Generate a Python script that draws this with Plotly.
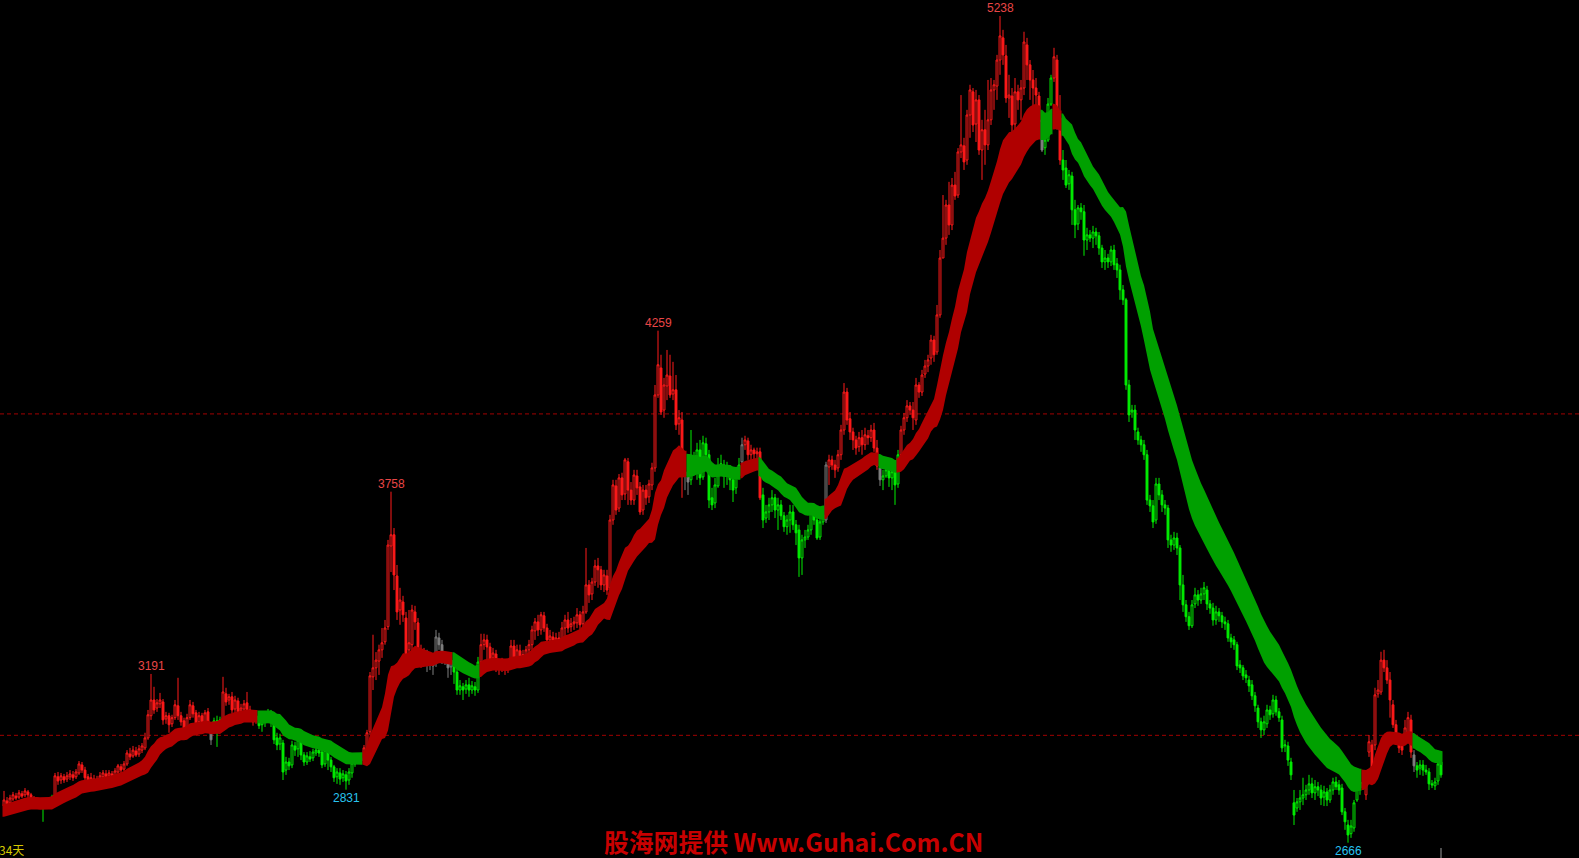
import math
import plotly.graph_objects as go

# ---------------- data (index price, one bar per session) ----------------
OPEN = [
    2780, 2796, 2790, 2802, 2811, 2808, 2818, 2815, 2824, 2815,
    2805, 2799, 2790, 2780, 2796, 2787, 2796, 2790, 2871, 2861,
    2871, 2864, 2871, 2877, 2871, 2883, 2908, 2892, 2871, 2858,
    2864, 2855, 2861, 2871, 2880, 2874, 2880, 2874, 2886, 2902,
    2895, 2911, 2942, 2936, 2951, 2942, 2954, 2961, 2992, 3061,
    3110, 3085, 3098, 3104, 3051, 3061, 3036, 3055, 3092, 3061,
    3045, 3023, 3055, 3092, 3070, 3042, 3061, 3030, 3073, 3023,
    3030, 3045, 3036, 3042, 3129, 3110, 3120, 3082, 3107, 3076,
    3082, 3101, 3079, 3067, 3048, 3061, 3033, 3042, 3058, 3070,
    3042, 2992, 2973, 2976, 2892, 2917, 2908, 2967, 2958, 2983,
    2939, 2917, 2933, 2930, 2945, 2954, 2948, 2911, 2951, 2923,
    2902, 2871, 2883, 2868, 2877, 2861, 2883, 2911, 2926, 2920,
    2930, 2961, 3011, 3182, 3210, 3231, 3266, 3291, 3338, 3589,
    3624, 3496, 3390, 3415, 3365, 3266, 3282, 3384, 3350, 3251,
    3234, 3247, 3222, 3234, 3228, 3303, 3282, 3247, 3234, 3213,
    3234, 3197, 3141, 3151, 3144, 3157, 3141, 3151, 3141, 3228,
    3282, 3297, 3275, 3241, 3253, 3225, 3213, 3225, 3210, 3222,
    3278, 3241, 3263, 3231, 3247, 3266, 3282, 3325, 3353, 3328,
    3372, 3334, 3297, 3306, 3294, 3303, 3291, 3334, 3359, 3338,
    3347, 3350, 3375, 3347, 3384, 3468, 3440, 3477, 3527, 3515,
    3468, 3496, 3459, 3670, 3776, 3707, 3801, 3751, 3851, 3763,
    3732, 3807, 3773, 3701, 3763, 3742, 3779, 3832, 4059, 4143,
    4012, 4087, 4118, 4062, 4075, 3969, 3981, 3820, 3804, 3795,
    3857, 3838, 3888, 3804, 3907, 3873, 3739, 3723, 3776, 3832,
    3841, 3810, 3826, 3795, 3770, 3807, 3851, 3904, 3916, 3873,
    3888, 3876, 3882, 3748, 3676, 3695, 3717, 3739, 3701, 3717,
    3683, 3649, 3670, 3695, 3655, 3639, 3552, 3608, 3617, 3639,
    3707, 3670, 3617, 3664, 3670, 3835, 3857, 3841, 3832, 3873,
    3950, 4068, 3985, 3944, 3919, 3898, 3926, 3904, 3932, 3926,
    3950, 3894, 3832, 3795, 3807, 3826, 3801, 3820, 3782, 3873,
    3950, 3988, 4025, 4012, 3981, 4090, 4068, 4124, 4149, 4174,
    4230, 4193, 4308, 4485, 4547, 4650, 4588, 4712, 4681, 4815,
    4834, 4790, 4930, 5002, 4902, 4977, 4821, 4884, 4837, 4915,
    5008, 5020, 5101, 5170, 5114, 4983, 4989, 4902, 5002, 4977,
    5014, 5148, 5086, 5039, 5014, 4989, 4915, 4828, 4852, 4964,
    5045, 5101, 4921, 4790, 4765, 4716, 4740, 4635, 4591, 4641,
    4629, 4541, 4557, 4547, 4566, 4554, 4516, 4473, 4485, 4473,
    4510, 4467, 4448, 4386, 4355, 4090, 4006, 4012, 3944, 3919,
    3904, 3873, 3732, 3714, 3670, 3782, 3748, 3717, 3707, 3608,
    3592, 3614, 3583, 3468, 3406, 3369, 3341, 3409, 3437, 3421,
    3440, 3452, 3409, 3396, 3359, 3384, 3372, 3353, 3347, 3303,
    3297, 3282, 3219, 3210, 3188, 3172, 3157, 3123, 3085, 3042,
    3017, 3036, 3079, 3067, 3110, 3073, 3048, 2967, 2967, 2917,
    2790, 2774, 2793, 2805, 2815, 2830, 2849, 2821, 2840, 2830,
    2808, 2824, 2799, 2830, 2855, 2846, 2836, 2762, 2721, 2694,
    2712, 2799, 2836, 2855, 2815, 2948, 2970, 2970, 3129, 3135,
    3234, 3210, 3172, 3095, 3033, 2992, 2967, 2992, 2998, 3048,
    2939, 2905, 2898, 2908, 2892, 2886, 2849, 2843, 2858, 2917,
]
HIGH = [
    2827, 2808, 2815, 2824, 2821, 2830, 2827, 2836, 2830, 2821,
    2811, 2805, 2802, 2805, 2802, 2808, 2815, 2883, 2886, 2883,
    2880, 2886, 2892, 2889, 2895, 2920, 2917, 2902, 2880, 2883,
    2877, 2874, 2886, 2892, 2892, 2892, 2889, 2898, 2911, 2911,
    2920, 2954, 2961, 2967, 2964, 2970, 2976, 3008, 3079, 3191,
    3151, 3113, 3132, 3113, 3073, 3070, 3064, 3110, 3179, 3073,
    3055, 3067, 3110, 3104, 3079, 3073, 3070, 3079, 3085, 3030,
    3055, 3061, 3058, 3182, 3148, 3129, 3135, 3123, 3117, 3098,
    3110, 3135, 3092, 3076, 3073, 3073, 3055, 3070, 3082, 3079,
    3051, 3008, 3005, 2986, 2933, 2930, 2983, 2980, 2998, 2992,
    2948, 2948, 2951, 2958, 2967, 2970, 2958, 2973, 2961, 2933,
    2908, 2898, 2898, 2892, 2889, 2898, 2923, 2939, 2942, 2939,
    2970, 3017, 3197, 3313, 3259, 3282, 3334, 3359, 3608, 3758,
    3645, 3530, 3459, 3434, 3384, 3390, 3406, 3403, 3365, 3282,
    3272, 3266, 3251, 3244, 3328, 3319, 3297, 3259, 3251, 3251,
    3254, 3210, 3172, 3163, 3172, 3179, 3169, 3166, 3244, 3316,
    3316, 3313, 3288, 3272, 3266, 3238, 3241, 3234, 3234, 3297,
    3297, 3282, 3282, 3266, 3278, 3297, 3341, 3365, 3375, 3384,
    3384, 3347, 3328, 3322, 3319, 3322, 3353, 3375, 3384, 3365,
    3369, 3396, 3387, 3403, 3583, 3483, 3490, 3546, 3552, 3527,
    3515, 3515, 3686, 3795, 3795, 3813, 3817, 3863, 3863, 3788,
    3826, 3826, 3788, 3779, 3779, 3795, 3848, 4090, 4259, 4184,
    4112, 4199, 4184, 4162, 4121, 4012, 4006, 3841, 3826, 3950,
    3882, 3910, 3919, 3932, 3926, 3888, 3770, 3801, 3863, 3873,
    3857, 3851, 3841, 3820, 3826, 3863, 3926, 3932, 3926, 3904,
    3895, 3895, 3895, 3770, 3717, 3739, 3763, 3751, 3739, 3732,
    3695, 3686, 3717, 3717, 3670, 3655, 3624, 3639, 3655, 3717,
    3720, 3686, 3676, 3701, 3851, 3873, 3870, 3857, 3888, 3966,
    4096, 4081, 4006, 3957, 3932, 3944, 3950, 3957, 3950, 3966,
    3972, 3919, 3841, 3826, 3841, 3838, 3832, 3838, 3888, 3963,
    4003, 4043, 4037, 4037, 4112, 4099, 4137, 4168, 4184, 4246,
    4243, 4339, 4510, 4681, 4666, 4722, 4734, 4753, 4827, 4992,
    4859, 4946, 5024, 5014, 5008, 4992, 4915, 4946, 5039, 5045,
    5039, 5117, 5238, 5195, 5148, 5055, 5014, 5045, 5024, 5039,
    5189, 5170, 5101, 5070, 5045, 5002, 4930, 4868, 4983, 5055,
    5139, 5117, 4992, 4821, 4790, 4759, 4753, 4666, 4650, 4656,
    4650, 4579, 4572, 4585, 4579, 4566, 4526, 4510, 4498, 4523,
    4526, 4485, 4464, 4401, 4361, 4106, 4028, 4028, 3957, 3932,
    3919, 3888, 3748, 3732, 3801, 3801, 3763, 3732, 3717, 3624,
    3633, 3630, 3592, 3499, 3421, 3384, 3421, 3459, 3452, 3459,
    3477, 3465, 3421, 3412, 3403, 3396, 3384, 3369, 3359, 3316,
    3309, 3291, 3234, 3219, 3203, 3185, 3172, 3135, 3095, 3055,
    3061, 3095, 3092, 3126, 3123, 3085, 3061, 2986, 2980, 2930,
    2830, 2805, 2830, 2868, 2846, 2877, 2868, 2861, 2855, 2846,
    2843, 2836, 2846, 2868, 2871, 2861, 2849, 2774, 2737, 2737,
    2799, 2855, 2868, 2874, 2892, 3001, 2986, 3148, 3172, 3260,
    3266, 3234, 3197, 3110, 3048, 3001, 2986, 3048, 3073, 3064,
    2954, 2917, 2923, 2923, 2908, 2898, 2861, 2868, 2930, 2923,
]
LOW = [
    2759, 2774, 2780, 2796, 2799, 2802, 2805, 2808, 2805, 2796,
    2790, 2777, 2771, 2731, 2774, 2780, 2790, 2783, 2846, 2849,
    2852, 2855, 2861, 2858, 2864, 2877, 2883, 2858, 2846, 2849,
    2843, 2836, 2855, 2861, 2864, 2864, 2868, 2868, 2880, 2883,
    2889, 2905, 2923, 2930, 2933, 2933, 2945, 2954, 2986, 3048,
    3067, 3073, 3085, 3033, 3036, 3008, 3026, 3048, 3048, 3030,
    3008, 3014, 3048, 3055, 3017, 3026, 3017, 3017, 3011, 2970,
    3017, 2964, 3023, 3030, 3092, 3095, 3067, 3073, 3061, 3061,
    3070, 3070, 3055, 3030, 3036, 3020, 3011, 3026, 3042, 3026,
    2973, 2954, 2954, 2861, 2877, 2892, 2898, 2936, 2933, 2923,
    2905, 2908, 2917, 2920, 2936, 2933, 2898, 2902, 2892, 2886,
    2855, 2849, 2846, 2855, 2831, 2846, 2868, 2902, 2911, 2911,
    2917, 2954, 3001, 3141, 3172, 3188, 3241, 3282, 3328, 3508,
    3452, 3359, 3344, 3353, 3234, 3251, 3266, 3328, 3228, 3210,
    3225, 3197, 3203, 3188, 3213, 3266, 3222, 3219, 3179, 3188,
    3160, 3126, 3126, 3110, 3129, 3120, 3129, 3123, 3132, 3216,
    3266, 3234, 3203, 3210, 3197, 3188, 3197, 3188, 3194, 3210,
    3219, 3210, 3213, 3216, 3234, 3241, 3266, 3297, 3309, 3313,
    3322, 3282, 3278, 3272, 3278, 3266, 3282, 3309, 3319, 3322,
    3328, 3334, 3328, 3334, 3378, 3412, 3421, 3465, 3459, 3452,
    3446, 3437, 3446, 3655, 3686, 3695, 3732, 3732, 3717, 3717,
    3717, 3748, 3686, 3686, 3717, 3723, 3763, 3820, 4050, 3997,
    3988, 4043, 4050, 4043, 3950, 3935, 3739, 3763, 3748, 3779,
    3826, 3795, 3779, 3795, 3857, 3707, 3701, 3707, 3770, 3826,
    3770, 3779, 3763, 3726, 3751, 3795, 3841, 3888, 3857, 3857,
    3857, 3863, 3732, 3645, 3661, 3670, 3695, 3676, 3639, 3670,
    3633, 3624, 3630, 3639, 3592, 3493, 3499, 3583, 3608, 3624,
    3655, 3608, 3608, 3655, 3661, 3779, 3826, 3801, 3820, 3857,
    3935, 3966, 3919, 3888, 3873, 3882, 3873, 3888, 3904, 3913,
    3882, 3826, 3776, 3763, 3801, 3773, 3763, 3717, 3770, 3863,
    3935, 3975, 3997, 3950, 3966, 4050, 4056, 4112, 4130, 4153,
    4162, 4184, 4299, 4532, 4526, 4557, 4572, 4666, 4672, 4796,
    4759, 4775, 4859, 4877, 4846, 4806, 4728, 4775, 4821, 4899,
    4946, 4977, 5055, 5086, 4968, 4921, 4806, 4868, 4946, 4915,
    4992, 5039, 4977, 4946, 4946, 4899, 4815, 4806, 4846, 4958,
    5033, 4884, 4775, 4728, 4703, 4697, 4588, 4547, 4572, 4604,
    4492, 4510, 4535, 4516, 4526, 4495, 4454, 4448, 4454, 4460,
    4448, 4423, 4355, 4339, 4075, 3975, 3988, 3919, 3904, 3882,
    3857, 3717, 3695, 3645, 3658, 3732, 3695, 3686, 3583, 3571,
    3577, 3561, 3421, 3384, 3353, 3328, 3334, 3396, 3403, 3409,
    3421, 3390, 3378, 3341, 3344, 3353, 3334, 3328, 3291, 3272,
    3266, 3203, 3194, 3172, 3163, 3135, 3110, 3073, 3023, 2992,
    3001, 3023, 3048, 3055, 3061, 3042, 2948, 2948, 2905, 2861,
    2721, 2762, 2768, 2783, 2799, 2815, 2805, 2799, 2811, 2783,
    2780, 2780, 2790, 2815, 2830, 2815, 2752, 2706, 2666, 2681,
    2700, 2793, 2815, 2830, 2799, 2933, 2886, 2954, 3117, 3126,
    3197, 3160, 3055, 3023, 2980, 2945, 2939, 2970, 2980, 2930,
    2886, 2868, 2877, 2874, 2877, 2830, 2836, 2830, 2846, 2868,
]
CLOSE = [
    2799, 2787, 2805, 2815, 2805, 2821, 2811, 2827, 2815, 2802,
    2796, 2783, 2780, 2796, 2783, 2799, 2808, 2874, 2858, 2874,
    2861, 2874, 2880, 2868, 2886, 2911, 2892, 2868, 2855, 2868,
    2852, 2864, 2874, 2883, 2871, 2883, 2874, 2889, 2905, 2892,
    2911, 2945, 2933, 2954, 2939, 2958, 2967, 2992, 3064, 3110,
    3079, 3101, 3110, 3048, 3061, 3033, 3055, 3095, 3061, 3042,
    3017, 3055, 3095, 3067, 3033, 3061, 3030, 3070, 3023, 2986,
    3045, 3033, 3048, 3135, 3104, 3120, 3079, 3110, 3073, 3085,
    3098, 3079, 3067, 3042, 3061, 3030, 3042, 3061, 3073, 3048,
    2986, 2970, 2992, 2886, 2917, 2905, 2970, 2954, 2986, 2939,
    2917, 2936, 2926, 2948, 2954, 2945, 2908, 2954, 2923, 2902,
    2868, 2886, 2864, 2880, 2858, 2886, 2914, 2930, 2923, 2930,
    2961, 3008, 3185, 3210, 3234, 3266, 3288, 3334, 3592, 3624,
    3499, 3384, 3421, 3375, 3251, 3288, 3390, 3353, 3241, 3228,
    3251, 3219, 3234, 3216, 3306, 3282, 3244, 3234, 3210, 3234,
    3197, 3141, 3154, 3141, 3157, 3141, 3154, 3141, 3228, 3282,
    3297, 3275, 3234, 3256, 3222, 3210, 3228, 3206, 3222, 3278,
    3234, 3266, 3228, 3251, 3266, 3282, 3328, 3353, 3328, 3375,
    3334, 3297, 3309, 3291, 3303, 3291, 3334, 3359, 3334, 3347,
    3353, 3375, 3344, 3384, 3468, 3437, 3477, 3527, 3515, 3468,
    3499, 3452, 3670, 3779, 3701, 3801, 3748, 3857, 3763, 3732,
    3810, 3770, 3695, 3763, 3739, 3782, 3832, 4059, 4153, 4006,
    4090, 4121, 4059, 4075, 3966, 3988, 3810, 3807, 3788, 3857,
    3841, 3888, 3801, 3910, 3873, 3732, 3717, 3779, 3832, 3845,
    3807, 3826, 3795, 3763, 3810, 3841, 3904, 3919, 3873, 3888,
    3876, 3882, 3739, 3670, 3695, 3717, 3739, 3701, 3717, 3683,
    3649, 3670, 3695, 3655, 3630, 3552, 3608, 3617, 3639, 3707,
    3670, 3614, 3664, 3686, 3841, 3857, 3841, 3826, 3873, 3950,
    4068, 3981, 3944, 3919, 3894, 3926, 3904, 3935, 3926, 3950,
    3894, 3838, 3795, 3807, 3826, 3801, 3820, 3779, 3873, 3950,
    3988, 4025, 4012, 3988, 4090, 4068, 4121, 4149, 4168, 4230,
    4184, 4308, 4485, 4547, 4650, 4588, 4712, 4678, 4815, 4837,
    4784, 4930, 5008, 4899, 4977, 4821, 4884, 4837, 4915, 5008,
    5024, 5101, 5176, 5117, 4983, 4992, 4899, 5002, 4977, 5014,
    5157, 5086, 5039, 5014, 4992, 4908, 4821, 4852, 4964, 5045,
    5111, 4915, 4790, 4759, 4712, 4744, 4635, 4588, 4641, 4629,
    4541, 4557, 4547, 4566, 4554, 4516, 4473, 4485, 4473, 4510,
    4464, 4448, 4386, 4355, 4090, 3997, 4012, 3950, 3919, 3904,
    3873, 3732, 3714, 3664, 3782, 3748, 3717, 3707, 3608, 3592,
    3614, 3583, 3468, 3406, 3369, 3341, 3406, 3437, 3421, 3440,
    3459, 3409, 3396, 3359, 3384, 3372, 3353, 3347, 3303, 3291,
    3282, 3216, 3210, 3185, 3179, 3154, 3123, 3092, 3042, 3017,
    3042, 3079, 3064, 3110, 3073, 3055, 2961, 2970, 2923, 2877,
    2752, 2793, 2805, 2815, 2830, 2849, 2821, 2840, 2830, 2805,
    2824, 2799, 2830, 2855, 2840, 2830, 2762, 2731, 2690, 2718,
    2790, 2836, 2855, 2849, 2877, 2980, 2899, 3126, 3141, 3234,
    3210, 3172, 3110, 3033, 2992, 2961, 2954, 3023, 3055, 2948,
    2905, 2892, 2908, 2892, 2886, 2849, 2846, 2855, 2911, 2877,
]
# trend signal of the ribbon: (signal, number of bars), 1 = up, -1 = down
RIBBON_SIGNAL_RUNS = [(1, 85), (-1, 35), (1, 30), (-1, 9), (1, 69), (-1, 18), (1, 6), (-1, 22),
                      (1, 18), (-1, 6), (1, 48), (-1, 4), (1, 3), (-1, 100), (1, 17), (-1, 10)]
# bar signal: 1 = up, -1 = down, 0 = neutral
BAR_SIGNAL_RUNS = [(1, 12), (0, 1), (-1, 4), (1, 52), (0, 1), (-1, 3), (1, 12), (-1, 34), (0, 1),
                   (1, 21), (0, 9), (-1, 9), (1, 68), (0, 2), (-1, 17), (0, 1), (1, 6), (-1, 21),
                   (0, 1), (1, 17), (0, 1), (-1, 6), (1, 47), (0, 1), (-1, 3), (1, 3), (-1, 101),
                   (1, 16), (0, 1), (-1, 9)]
EMA_SEED = [2768, 2759]          # ribbon edges at the first bar
EMA_PERIODS = [20, 32]           # fast / slow ribbon lines
GUIDE_LEVELS = [3000, 4000]
PEAK_LABELS = [3191, 3758, 4259, 5238]
TROUGH_LABELS = [2831, 2666]
PERIOD_TEXT = "34天"
WATERMARK = "股海网提供 Www.Guhai.Com.CN"

# ---------------- styling ----------------
W, H = 1579, 858
BAR_PX = 3.0
FIRST_PX = 4.0
PTS_PER_PX = 3.1112
RIBBON_PEN_PX = 12.5             # pen width of the ribbon
CANDLE_COLORS = {1: "#ff1a1a", -1: "#00ee00", 0: "#808080"}
BAND_COLORS = {1: "#b00000", -1: "#00a000"}
GUIDE_COLOR = "#a00000"
HI_COLOR = "#e84646"
LO_COLOR = "#28c4f0"

n = min(len(OPEN), len(HIGH), len(LOW), len(CLOSE))
idx = list(range(n))
o = OPEN[:n]; c = CLOSE[:n]
h = [max(HIGH[i], o[i], c[i]) for i in idx]
l = [min(LOW[i], o[i], c[i]) for i in idx]


def expand(runs, count, fill):
    out = []
    for val, k in runs:
        out.extend([val] * k)
    out = out[:count]
    out.extend([fill] * (count - len(out)))
    return out


ribbon_sig = expand(RIBBON_SIGNAL_RUNS, n, -1)
bar_sig = expand(BAR_SIGNAL_RUNS, n, -1)


def ema(values, period, seed):
    a = 2.0 / (period + 1)
    e = seed
    out = []
    for v in values:
        e = e + a * (v - e)
        out.append(e)
    return out


fast = ema(c, EMA_PERIODS[0], EMA_SEED[0])
slow = ema(c, EMA_PERIODS[1], EMA_SEED[1])
center = [(fast[i] + slow[i]) / 2 for i in idx]

top, bot = [], []
for i in idx:
    a, b = max(i - 1, 0), min(i + 1, n - 1)
    slope_px = abs(center[b] - center[a]) / max(b - a, 1) / PTS_PER_PX / BAR_PX
    pen_half = RIBBON_PEN_PX * PTS_PER_PX / 2 * math.sqrt(1 + slope_px ** 2)
    half = max(abs(fast[i] - slow[i]) / 2, pen_half)
    top.append(center[i] + half)
    bot.append(center[i] - half)

fig = go.Figure()

# ribbon: one filled polygon per run of the same trend signal
runs = []
s = 0
for i in range(1, n + 1):
    if i == n or ribbon_sig[i] != ribbon_sig[s]:
        runs.append((s, i - 1, ribbon_sig[s]))
        s = i
for s, e, sig in runs:
    xs = [s - 0.5] + list(range(s, e + 1)) + [e + 0.5]
    ys_top = [top[s]] + top[s:e + 1] + [top[e]]
    ys_bot = [bot[s]] + bot[s:e + 1] + [bot[e]]
    fig.add_trace(go.Scatter(
        x=xs + xs[::-1], y=ys_top + ys_bot[::-1], mode="lines",
        fill="toself", fillcolor=BAND_COLORS[sig], line=dict(width=0, color=BAND_COLORS[sig]),
        hoverinfo="skip", showlegend=False))

for key in (1, -1, 0):
    col = CANDLE_COLORS[key]
    ids = [i for i in idx if bar_sig[i] == key]
    if not ids:
        continue
    fig.add_trace(go.Candlestick(
        x=ids,
        open=[o[i] for i in ids], high=[h[i] for i in ids],
        low=[l[i] for i in ids], close=[c[i] for i in ids],
        increasing=dict(line=dict(color=col, width=1), fillcolor="#000000"),
        decreasing=dict(line=dict(color=col, width=1), fillcolor=col),
        whiskerwidth=0, hoverinfo="skip", showlegend=False))

annotations = []
for v in PEAK_LABELS:
    i = h.index(v)
    annotations.append(dict(x=i, y=v, xref="x", yref="y", text=str(v), showarrow=False,
                            yanchor="bottom", yshift=-1,
                            font=dict(family="Liberation Sans", size=12, color=HI_COLOR)))
for v in TROUGH_LABELS:
    i = l.index(v)
    annotations.append(dict(x=i, y=v, xref="x", yref="y", text=str(v), showarrow=False,
                            yanchor="top", yshift=1,
                            font=dict(family="Liberation Sans", size=12, color=LO_COLOR)))
annotations.append(dict(x=0, y=1 - 849 / H, xref="paper", yref="paper", text=PERIOD_TEXT,
                        showarrow=False, xanchor="left", yanchor="middle", xshift=-3,
                        font=dict(family="Noto Sans CJK SC", size=12, color="#d6c800")))
annotations.append(dict(x=793 / W, y=0, xref="paper", yref="paper",
                        text="<b>" + WATERMARK + "</b>", showarrow=False,
                        xanchor="center", yanchor="bottom", yshift=-3,
                        font=dict(family="Noto Sans CJK SC", size=24.8, color="#c80000")))

shapes = [dict(type="line", xref="paper", x0=0, x1=1, yref="y", y0=lv, y1=lv,
               line=dict(color=GUIDE_COLOR, width=1, dash="4px,3px"), layer="below")
          for lv in GUIDE_LEVELS]
shapes.append(dict(type="line", xref="x", x0=n - 1, x1=n - 1, yref="paper", y0=0, y1=10 / H,
                   line=dict(color="#9a9a9a", width=1), layer="above"))

y_top = 5238 + 16 * PTS_PER_PX
y_bot = 5238 - (H - 16) * PTS_PER_PX
x_lo = -FIRST_PX / BAR_PX
x_hi = x_lo + W / BAR_PX

fig.update_layout(
    width=W, height=H, margin=dict(l=0, r=0, t=0, b=0),
    paper_bgcolor="#000000", plot_bgcolor="#000000",
    showlegend=False, boxgap=0.1,
    xaxis=dict(range=[x_lo, x_hi], visible=False, rangeslider=dict(visible=False),
               showgrid=False, zeroline=False),
    yaxis=dict(range=[y_bot, y_top], visible=False, showgrid=False, zeroline=False),
    annotations=annotations, shapes=shapes,
)

fig.write_html(
    "out.html", include_plotlyjs=True,
    config={"displayModeBar": False, "staticPlot": True},
    post_script="document.body.style.margin='0';document.body.style.overflow='hidden';"
                "document.body.style.background='#000';",
)
